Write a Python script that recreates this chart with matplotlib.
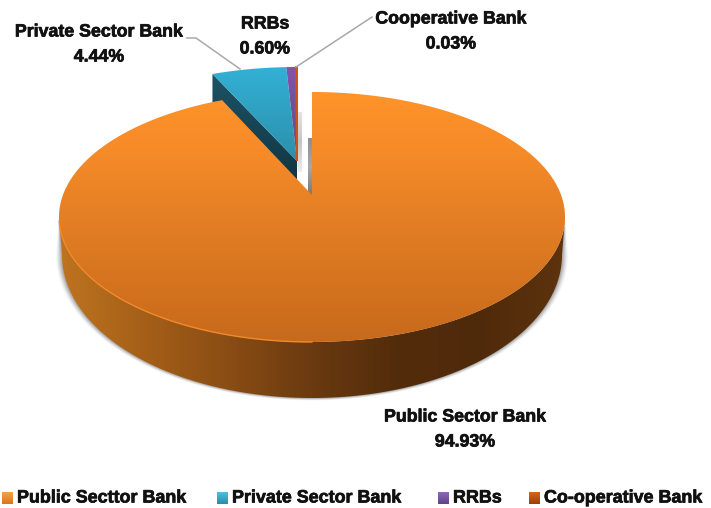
import numpy as np
import matplotlib
matplotlib.use("Agg")
import matplotlib.pyplot as plt
import matplotlib.patheffects as pe
from matplotlib.colors import LinearSegmentedColormap
from matplotlib.patches import Polygon

plt.rcParams['font.family'] = ['Liberation Sans', 'DejaVu Sans']

# shares of each bank group, in percent
categories = ["Public Sector Bank", "Private Sector Bank", "RRBs", "Cooperative Bank"]
legend_names = ["Public Secttor Bank", "Private Sector Bank", "RRBs", "Co-operative Bank"]
shares = [94.93, 4.44, 0.60, 0.03]

W, H = 711, 508
BACK_STRETCH = 1.14  # perspective widens the angles at the back of the disc
heavy = [pe.withStroke(linewidth=0.5, foreground="#111111")]


def rim(t_deg, cx, cy, a, b):
    # t runs clockwise from the top of the ellipse
    t = np.radians(t_deg)
    return np.column_stack([cx + a * np.sin(t), cy - b * np.cos(t)])


def gradient_poly(ax, pts, stops, horizontal=False, zorder=2):
    # paint a clipped gradient inside a polygon
    pts = np.asarray(pts)
    x0, x1 = pts[:, 0].min(), pts[:, 0].max()
    y0, y1 = pts[:, 1].min(), pts[:, 1].max()
    cmap = LinearSegmentedColormap.from_list("g", stops)
    ramp = np.linspace(0, 1, 256)
    grid = ramp[None, :] if horizontal else ramp[:, None]
    im = ax.imshow(grid, cmap=cmap, extent=(x0, x1, y1, y0), origin="upper",
                   aspect="auto", zorder=zorder, interpolation="bilinear")
    clip = Polygon(pts, closed=True, transform=ax.transData)
    im.set_clip_path(clip)
    return im


fig = plt.figure(figsize=(W / 100, H / 100), dpi=100)
ax = fig.add_axes([0, 0, 1, 1])
ax.axis("off")

# disc geometry
top = dict(cx=312, cy=217, a=253, b=125)
low = dict(cx=312, cy=255, a=250, b=143)
sm = dict(cx=297, cy=174, a=238, b=107)
apex_main = (312, 195)
apex_small = (297, 161)
SMALL_DEPTH = 19

angles = np.array(shares) / sum(shares) * 360
small_span = angles[1:].sum()

# soft shadow under the thick edge
band_t = np.linspace(90, 270, 200)
for grow, alpha in zip([6, 5, 4, 3, 2, 1], [0.05, 0.07, 0.09, 0.12, 0.15, 0.18]):
    edge = rim(band_t, low["cx"], low["cy"], low["a"] + grow, low["b"] + grow * 0.4)
    ax.add_patch(Polygon(np.vstack([rim(band_t[::-1], top["cx"], top["cy"], top["a"], top["b"]), edge]),
                         closed=True, fc="#606060", ec="none", alpha=alpha, zorder=1))

# inner walls seen through the gap
gradient_poly(ax, [(298, 112), (302, 112), (302, 172), (298, 172)], ["#e4e4e4", "#c4c4c4", "#eeeeee"], zorder=1.5)
gradient_poly(ax, [(308, 138), (312, 138), (312, 196), (308, 196)], ["#8f8f8f", "#a8a8a8", "#777777"], zorder=1.5)

# exploded small slices: dark cut face first, then the tops
start_pt = rim([-small_span * BACK_STRETCH], **sm)[0]
side = [tuple(start_pt), apex_small, (apex_small[0], apex_small[1] + SMALL_DEPTH),
        (start_pt[0], start_pt[1] + 32)]
gradient_poly(ax, side, ["#1d5366", "#123643"], horizontal=False, zorder=2)

small_stops = [["#33B3D8", "#2C8FAB"], ["#8157A8", "#65488C"], ["#CF5310", "#B4480C"]]
remaining = small_span
for share_angle, stops in zip(angles[1:], small_stops):
    t = np.linspace(-remaining, -(remaining - share_angle), 12) * BACK_STRETCH
    pts = np.vstack([rim(t, **sm), [apex_small]])
    ext = np.array([[pts[:, 0].min(), 60], [pts[:, 0].max(), 60], [pts[:, 0].max(), apex_small[1]], [pts[:, 0].min(), apex_small[1]]])
    im = gradient_poly(ax, ext, stops, zorder=2.2)
    im.set_clip_path(Polygon(pts, closed=True, transform=ax.transData))
    if share_angle < 1:
        # a sliver this thin still needs to show
        ax.add_patch(Polygon(pts, closed=True, fc=stops[0], ec=stops[0], lw=1.4, zorder=2.3))
    remaining -= share_angle

# leader lines
ax.plot([187, 196, 240], [38, 38, 69], color="#a9a9a9", lw=1.1, zorder=2.5)
ax.plot([296, 372], [67, 17], color="#a9a9a9", lw=1.1, zorder=2.5)

# thick edge of the big slice
t_band = np.linspace(90, 270, 240)
band = np.vstack([rim(t_band, **top), rim(t_band[::-1], **low)])
gradient_poly(ax, band, ["#BE7420", "#A55F18", "#8A4D14", "#6A3A10", "#532C0B", "#4F2A0A", "#5E330E"],
              horizontal=True, zorder=3)

# top of the big slice
t_top = np.linspace(0, 360 - small_span * BACK_STRETCH, 500)
top_pts = np.vstack([rim(t_top, **top), [apex_main]])
gradient_poly(ax, top_pts, ["#FF942B", "#F58A28", "#E47F25", "#D6741F", "#C76A1C"], zorder=4)
ax.plot(*rim(np.linspace(180, 268, 150), **top).T, color="#F28A2C", lw=1.0, zorder=4.5)

# value labels
label_pos = [(465, 417), (99, 32), (265, 24), (451, 19)]
for name, share, (lx, ly) in zip(categories, shares, label_pos):
    ax.text(lx, ly, name, ha="center", va="center", fontsize=12.8, fontweight="bold", color="#111111",
            zorder=6, path_effects=heavy)
    ax.text(lx, ly + 25, f"{share:.2f}%", ha="center", va="center", fontsize=12.8, fontweight="bold",
            color="#111111", zorder=6, path_effects=heavy)

# legend row
legend_x = [2, 217, 438, 529]
legend_stops = [["#F7A24B", "#D8761E"], ["#4FC0DE", "#2A8CA8"], ["#8F68B5", "#5F4488"], ["#D2661B", "#9A420C"]]
for name, lx, stops in zip(legend_names, legend_x, legend_stops):
    box = [(lx, 492), (lx + 11, 492), (lx + 11, 504), (lx, 504)]
    gradient_poly(ax, box, stops, zorder=5)
    ax.text(lx + 15, 498, name, ha="left", va="center", fontsize=12.9, fontweight="bold", color="#111111",
            path_effects=heavy)

ax.set_xlim(0, W)
ax.set_ylim(H, 0)
fig.savefig("out.png", dpi=100, facecolor="white")
